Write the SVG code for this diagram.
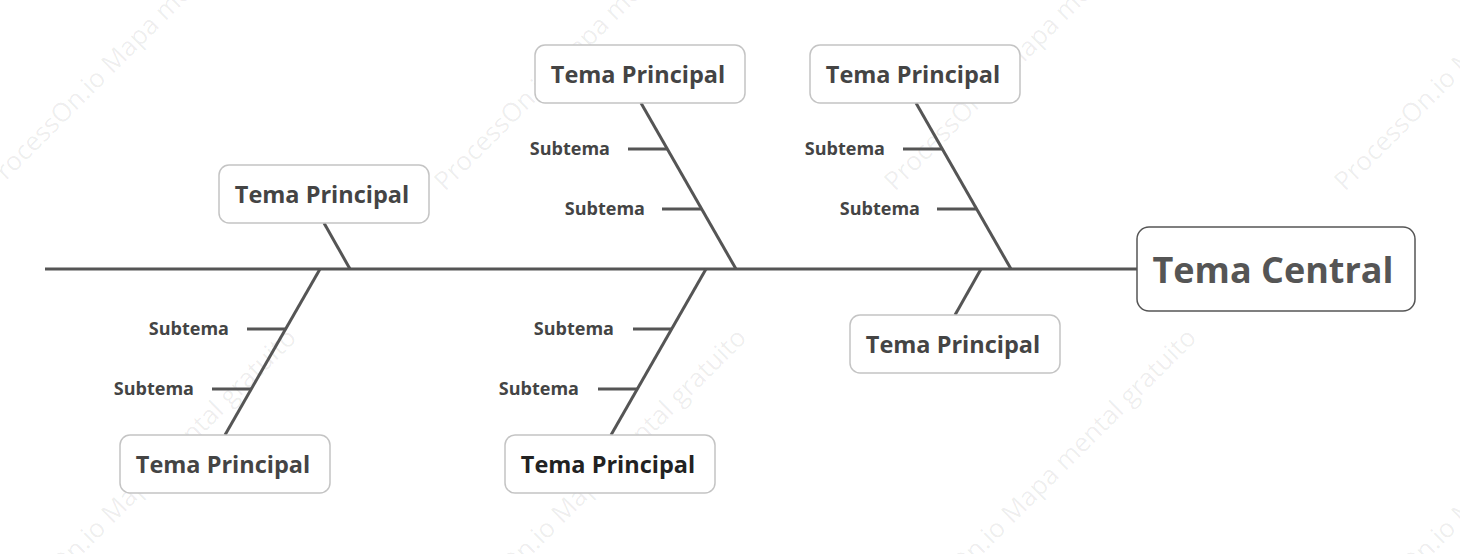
<svg xmlns="http://www.w3.org/2000/svg" width="1460" height="554" viewBox="0 0 1460 554">
<style>
.wm{font-family:"Open Sans","Liberation Sans",sans-serif;font-size:26px;fill:#000;fill-opacity:0.07}
.box{fill:#fff;stroke:#c4c4c4;stroke-width:1.5}
.cbox{fill:#fff;stroke:#555;stroke-width:1.5}
.main{font-family:"Open Sans","Liberation Sans",sans-serif;font-weight:bold;font-size:23.5px;fill:#444;text-anchor:middle}
.central{font-family:"Open Sans","Liberation Sans",sans-serif;font-weight:bold;font-size:36px;fill:#555;text-anchor:middle}
.sub{font-family:"Open Sans","Liberation Sans",sans-serif;font-weight:bold;font-size:18px;fill:#444;text-anchor:end}
.ln{stroke:#555;stroke-width:3;fill:none;stroke-linecap:butt}
</style>
<rect width="1460" height="554" fill="#fff"/>
<g id="watermark">
<text class="wm" transform="translate(-5,192) rotate(-45)">ProcessOn.io Mapa mental gratuito</text>
<text class="wm" transform="translate(445,192) rotate(-45)">ProcessOn.io Mapa mental gratuito</text>
<text class="wm" transform="translate(895,192) rotate(-45)">ProcessOn.io Mapa mental gratuito</text>
<text class="wm" transform="translate(1345,192) rotate(-45)">ProcessOn.io Mapa mental gratuito</text>
<text class="wm" transform="translate(-5,642) rotate(-45)">ProcessOn.io Mapa mental gratuito</text>
<text class="wm" transform="translate(445,642) rotate(-45)">ProcessOn.io Mapa mental gratuito</text>
<text class="wm" transform="translate(895,642) rotate(-45)">ProcessOn.io Mapa mental gratuito</text>
<text class="wm" transform="translate(1345,642) rotate(-45)">ProcessOn.io Mapa mental gratuito</text>
</g>
<g id="connectors">
<line class="ln" x1="45" y1="269" x2="1137" y2="269"/>
<line class="ln" x1="641" y1="103" x2="736" y2="269"/>
<line class="ln" x1="628" y1="149" x2="667" y2="149"/>
<line class="ln" x1="662" y1="209" x2="701" y2="209"/>
<line class="ln" x1="916" y1="103" x2="1011" y2="269"/>
<line class="ln" x1="903" y1="149" x2="942" y2="149"/>
<line class="ln" x1="937" y1="209" x2="976" y2="209"/>
<line class="ln" x1="324" y1="223" x2="350" y2="269"/>
<line class="ln" x1="320" y1="269" x2="225" y2="435"/>
<line class="ln" x1="247" y1="329" x2="286" y2="329"/>
<line class="ln" x1="212" y1="389" x2="251" y2="389"/>
<line class="ln" x1="706" y1="269" x2="611" y2="435"/>
<line class="ln" x1="633" y1="329" x2="672" y2="329"/>
<line class="ln" x1="598" y1="389" x2="637" y2="389"/>
<line class="ln" x1="981" y1="269" x2="955" y2="315"/>
</g>
<g id="central">
<rect class="cbox" x="1137" y="227" width="278" height="84" rx="12"/>
<text class="central" x="1273" y="283">Tema Central</text>
</g>
<g id="main-top-1">
<rect class="box" x="535" y="45" width="210" height="58" rx="10"/>
<text class="main" x="638" y="83">Tema Principal</text>
</g>
<g id="sub-top-1a"><text class="sub" x="610" y="155">Subtema</text></g>
<g id="sub-top-1b"><text class="sub" x="645" y="215">Subtema</text></g>
<g id="main-top-2">
<rect class="box" x="810" y="45" width="210" height="58" rx="10"/>
<text class="main" x="913" y="83">Tema Principal</text>
</g>
<g id="sub-top-2a"><text class="sub" x="885" y="155">Subtema</text></g>
<g id="sub-top-2b"><text class="sub" x="920" y="215">Subtema</text></g>
<g id="main-top-3">
<rect class="box" x="219" y="165" width="210" height="58" rx="10"/>
<text class="main" x="322" y="203">Tema Principal</text>
</g>
<g id="main-bottom-1">
<rect class="box" x="120" y="435" width="210" height="58" rx="10"/>
<text class="main" x="223" y="473">Tema Principal</text>
</g>
<g id="sub-bottom-1a"><text class="sub" x="229" y="335">Subtema</text></g>
<g id="sub-bottom-1b"><text class="sub" x="194" y="395">Subtema</text></g>
<g id="main-bottom-2">
<rect class="box" x="505" y="435" width="210" height="58" rx="10"/>
<text class="main" x="608" y="473" style="fill:#222">Tema Principal</text>
</g>
<g id="sub-bottom-2a"><text class="sub" x="614" y="335">Subtema</text></g>
<g id="sub-bottom-2b"><text class="sub" x="579" y="395">Subtema</text></g>
<g id="main-bottom-3">
<rect class="box" x="850" y="315" width="210" height="58" rx="10"/>
<text class="main" x="953" y="353">Tema Principal</text>
</g>
</svg>
